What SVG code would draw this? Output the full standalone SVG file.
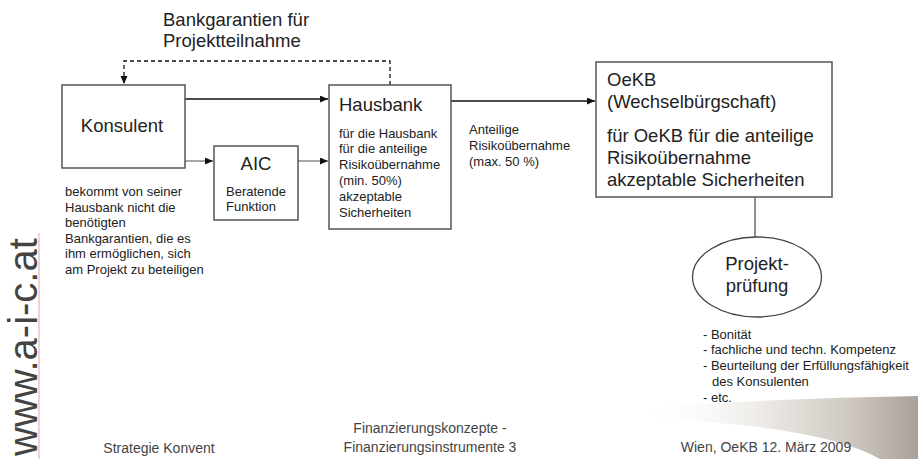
<svg xmlns="http://www.w3.org/2000/svg" width="918" height="459" viewBox="0 0 918 459">
<defs>
<marker id="arr" markerUnits="userSpaceOnUse" markerWidth="9" markerHeight="8" refX="8" refY="3.5" orient="auto">
<path d="M0,0 L8,3.5 L0,7 z" fill="#111"/>
</marker>
<linearGradient id="tex" x1="0" y1="0" x2="1" y2="0">
<stop offset="0" stop-color="#ffffff" stop-opacity="0"/>
<stop offset="0.45" stop-color="#ece9e5"/>
<stop offset="0.75" stop-color="#cfc9c2"/>
<stop offset="1" stop-color="#a9a29a"/>
</linearGradient>
<style>
.box{fill:#fff;stroke:#555;stroke-width:1.5}
.ln{fill:none;stroke:#111;stroke-width:1.3}
.lg{fill:none;stroke:#777;stroke-width:1.3}
.t{font-family:"Liberation Sans",Arial,sans-serif;fill:#222}
.big{font-size:18.5px}
.sm{font-size:13px}
.ft{font-family:"Liberation Sans",Arial,sans-serif;font-size:14px;fill:#444}
</style>
</defs>
<rect width="918" height="459" fill="#fff"/>
<path d="M640,408 Q780,398 918,396 L918,459 L880,459 Q820,425 640,418 Z" fill="url(#tex)"/>
<g id="watermark">
<line x1="39" y1="233" x2="39" y2="459" stroke="#f0a0a0" stroke-width="1"/>
<text class="t" transform="translate(37,456) rotate(-90)" font-size="40" style="fill:#444">www.a-i-c.at</text>
</g>
<g id="connectors">
<path class="ln" d="M390,85 V61 H124 V84" stroke-dasharray="4,3" marker-end="url(#arr)"/>
<line class="ln" x1="185" y1="99" x2="328" y2="99" marker-end="url(#arr)"/>
<line class="lg" x1="185" y1="161" x2="213" y2="161" marker-end="url(#arr)"/>
<line class="lg" x1="298" y1="161" x2="328" y2="161" marker-end="url(#arr)"/>
<line class="ln" x1="451" y1="101" x2="595" y2="101" marker-end="url(#arr)"/>
<line class="lg" x1="755" y1="197" x2="755" y2="237" style="stroke:#555"/>
<text class="t big" x="163" y="26">Bankgarantien für</text>
<text class="t big" x="163" y="47">Projektteilnahme</text>
<text class="t sm" x="469" y="134">Anteilige</text>
<text class="t sm" x="469" y="150">Risikoübernahme</text>
<text class="t sm" x="469" y="166">(max. 50 %)</text>
</g>
<g id="konsulent">
<rect class="box" x="62" y="85" width="123" height="83"/>
<text class="t big" x="122" y="132" text-anchor="middle">Konsulent</text>
<text class="t sm" x="65" y="196">bekommt von seiner</text>
<text class="t sm" x="65" y="211.5">Hausbank nicht die</text>
<text class="t sm" x="65" y="227">benötigten</text>
<text class="t sm" x="65" y="242.5">Bankgarantien, die es</text>
<text class="t sm" x="65" y="258">ihm ermöglichen, sich</text>
<text class="t sm" x="65" y="274">am Projekt zu beteiligen</text>
</g>
<g id="aic">
<rect class="box" x="214" y="146" width="84" height="74"/>
<text class="t big" x="256" y="170" text-anchor="middle">AIC</text>
<text class="t sm" x="226" y="195.5">Beratende</text>
<text class="t sm" x="226" y="210.5">Funktion</text>
</g>
<g id="hausbank">
<rect class="box" x="329" y="85" width="122" height="144"/>
<text class="t big" x="339" y="111">Hausbank</text>
<text class="t sm" x="339" y="137.5">für die Hausbank</text>
<text class="t sm" x="339" y="153">für die anteilige</text>
<text class="t sm" x="339" y="169">Risikoübernahme</text>
<text class="t sm" x="339" y="185">(min. 50%)</text>
<text class="t sm" x="339" y="201">akzeptable</text>
<text class="t sm" x="339" y="217">Sicherheiten</text>
</g>
<g id="oekb">
<rect class="box" x="596" y="62" width="236" height="135"/>
<text class="t big" x="607" y="86">OeKB</text>
<text class="t big" x="607" y="108">(Wechselbürgschaft)</text>
<text class="t big" x="607" y="142">für OeKB für die anteilige</text>
<text class="t big" x="607" y="164">Risikoübernahme</text>
<text class="t big" x="607" y="186">akzeptable Sicherheiten</text>
</g>
<g id="projektpruefung">
<ellipse cx="757" cy="277" rx="64.5" ry="40" fill="#fff" stroke="#444" stroke-width="1.3"/>
<text class="t big" x="757" y="270" text-anchor="middle">Projekt-</text>
<text class="t big" x="757" y="292" text-anchor="middle">prüfung</text>
<text class="t sm" x="703" y="338.5">- Bonität</text>
<text class="t sm" x="703" y="354">- fachliche und techn. Kompetenz</text>
<text class="t sm" x="703" y="369.5">- Beurteilung der Erfüllungsfähigkeit</text>
<text class="t sm" x="712" y="386">des Konsulenten</text>
<text class="t sm" x="703" y="401.5">- etc.</text>
</g>
<g id="footer">
<text class="ft" x="159" y="453" text-anchor="middle">Strategie Konvent</text>
<text class="ft" x="430" y="433" text-anchor="middle">Finanzierungskonzepte -</text>
<text class="ft" x="430" y="452" text-anchor="middle">Finanzierungsinstrumente 3</text>
<text class="ft" x="766" y="452" text-anchor="middle" font-size="14.5">Wien, OeKB 12. März 2009</text>
</g>
</svg>
